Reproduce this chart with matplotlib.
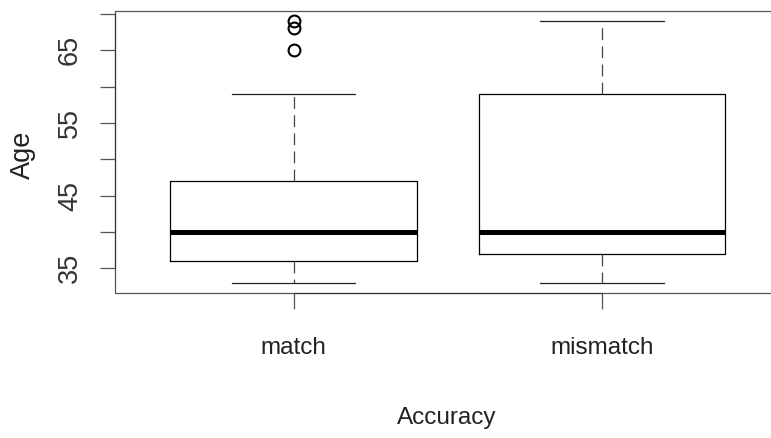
import matplotlib
matplotlib.use("Agg")
import matplotlib.pyplot as plt
from matplotlib.patches import Rectangle
from matplotlib import font_manager

# boxplot summary values
groups = ["match", "mismatch"]
whisker_lo = [33, 33]
q1 = [36, 37]
median = [40, 40]
q3 = [47, 59]
whisker_hi = [59, 69]
outliers = [[65, 68, 69], []]

ytick_vals = [35, 40, 45, 50, 55, 60, 65, 70]
ytick_labels = ["35", "", "45", "", "55", "", "65", ""]

names = {f.name for f in font_manager.fontManager.ttflist}
narrow = "Liberation Sans Narrow" if "Liberation Sans Narrow" in names else "Liberation Sans"
hsize = 19.5 if narrow == "Liberation Sans Narrow" else 17.5

W, H = 771, 438
fig = plt.figure(figsize=(W / 100, H / 100), dpi=100)

# plot region in pixels (right edge runs off the image, like the original)
left, right, top, bottom = 115, 780.6, 10.7, 293.3
ax = fig.add_axes([left / W, 1 - bottom / H, (right - left) / W, (bottom - top) / H])

stats = []
for i, g in enumerate(groups):
    stats.append(dict(label=g, whislo=whisker_lo[i], q1=q1[i], med=median[i],
                      q3=q3[i], whishi=whisker_hi[i], fliers=outliers[i]))

ax.bxp(stats, positions=[1, 2], widths=0.8, showfliers=True,
       boxprops=dict(color="black", linewidth=0.9),
       medianprops=dict(color="black", linewidth=3.6, solid_capstyle="butt"),
       whiskerprops=dict(color="#444444", linewidth=0.9, linestyle=(0, (9.5, 5))),
       capprops=dict(color="#222222", linewidth=0.9),
       flierprops=dict(marker="o", markerfacecolor="none", markeredgecolor="black",
                       markersize=8.5, markeredgewidth=1.5),
       capwidths=0.4)

ax.set_xlim(0.42, 2.58)
ax.set_ylim(31.56, 70.44)

# R-style: box drawn lightly, axis lines only between first and last tick
for s in ax.spines.values():
    s.set_visible(False)
ax.add_patch(Rectangle((0, 0), 1, 1, transform=ax.transAxes, fill=False,
                       edgecolor="#555555", linewidth=0.9, clip_on=False))
ax.spines["left"].set_visible(True)
ax.spines["left"].set_bounds(35, 70)
ax.spines["left"].set_color("#333333")
ax.spines["bottom"].set_visible(True)
ax.spines["bottom"].set_bounds(1, 2)
ax.spines["bottom"].set_color("#333333")

ax.set_yticks(ytick_vals)
ax.set_yticklabels(ytick_labels, rotation=90, va="center",
                   fontfamily="Liberation Sans", fontsize=19.5, color="#333333")
ax.set_xticks([1, 2])
ax.set_xticklabels(groups, fontfamily=narrow, fontsize=hsize, color="#222222")
ax.tick_params(axis="y", length=11, width=0.9, color="#555555", pad=12)
ax.tick_params(axis="x", length=11.5, width=0.9, color="#555555", pad=20)

fig.text(23 / W, 1 - 155 / H, "Age", rotation=90, ha="center", va="center",
         fontfamily="Liberation Sans", fontsize=19.5, color="#222222")
fig.text(446.7 / W, 1 - 418 / H, "Accuracy", ha="center", va="center",
         fontfamily=narrow, fontsize=hsize, color="#222222")

fig.savefig("out.png", dpi=100)
